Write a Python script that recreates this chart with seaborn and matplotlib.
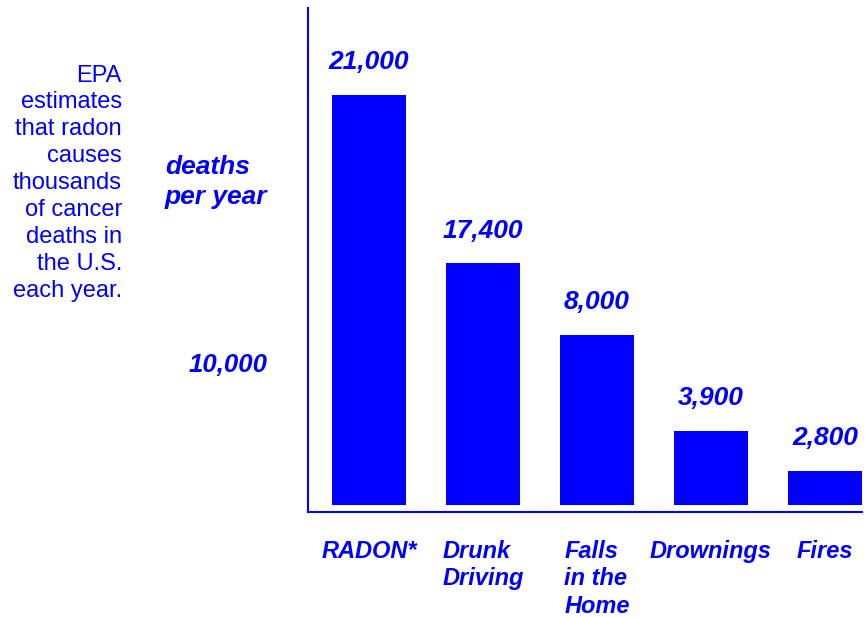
import pandas as pd
import matplotlib
matplotlib.use("Agg")
import matplotlib.pyplot as plt
import seaborn as sns

# categories and values (bar heights are read off the drawing against its 10,000 mark,
# the printed numbers are kept separately since the original art is not to scale)
causes = ["RADON*", "Drunk\nDriving", "Falls\nin the\nHome", "Drownings", "Fires"]
drawn_heights = [28700, 16900, 11900, 5200, 2400]
value_labels = ["21,000", "17,400", "8,000", "3,900", "2,800"]
y_ticks = [10000]
y_tick_labels = ["10,000"]
note = ("EPA\nestimates\nthat radon\ncauses\nthousands\nof cancer\n"
        "deaths in\nthe U.S.\neach year.")

sns.set_style("white")
plt.rcParams["font.family"] = ["Liberation Sans", "DejaVu Sans"]

blue = "#0000FF"
df = pd.DataFrame({"cause": causes, "deaths": drawn_heights})

fig = plt.figure(figsize=(8.68, 6.17), dpi=100)
ax = fig.add_axes([0.355, 0.170, 0.638, 0.817])

sns.barplot(data=df, x="cause", y="deaths", color=blue, saturation=1,
            width=0.65, edgecolor="none", ax=ax)

ax.set_xlim(-0.535, 4.325)
ax.set_ylim(-490, 34755)

for side in ["top", "right"]:
    ax.spines[side].set_visible(False)
for side in ["left", "bottom"]:
    ax.spines[side].set_color(blue)
    ax.spines[side].set_linewidth(1.5)

ax.set_xlabel("")
ax.set_ylabel("")
ax.set_yticks(y_ticks)
ax.set_yticklabels(y_tick_labels, fontsize=18.5, fontweight="bold",
                   fontstyle="italic", color=blue)
ax.tick_params(axis="y", length=0, pad=29)
ax.set_xticks(range(len(causes)))
ax.set_xticklabels(causes, fontsize=17, fontweight="bold", fontstyle="italic",
                   color=blue, multialignment="left", linespacing=1.24)
ax.tick_params(axis="x", length=0, pad=20)

ax.bar_label(ax.containers[0], labels=value_labels, padding=15, fontsize=19,
             fontweight="bold", fontstyle="italic", color=blue)

fig.text(0.190, 0.705, "deaths\nper year", fontsize=19, fontweight="bold",
         fontstyle="italic", color=blue, ha="left", va="center",
         multialignment="left", linespacing=1.3)
fig.text(0.1405, 0.703, note, fontsize=17, color=blue, ha="right", va="center",
         multialignment="right", linespacing=1.29)

fig.savefig("out.png", dpi=100, facecolor="white")
